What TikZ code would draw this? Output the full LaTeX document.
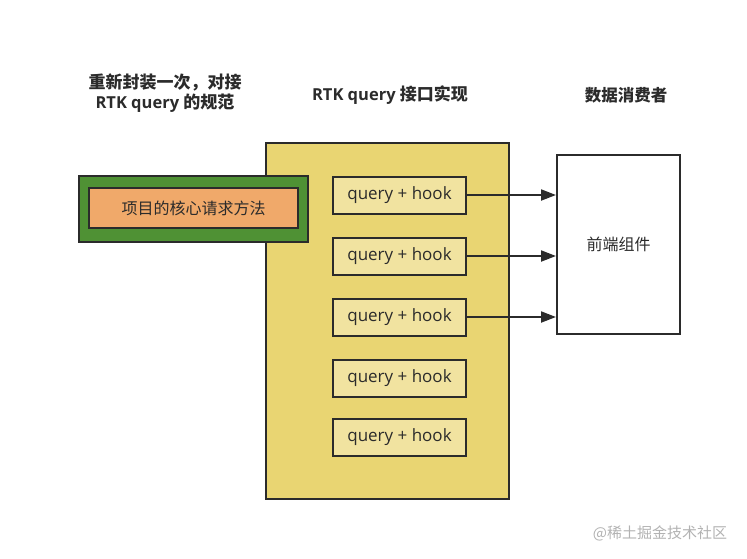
\documentclass[tikz,border=0pt]{standalone}
\usepackage{fontspec}
\setmainfont{Open Sans}
\newfontfamily\cjk{Noto Sans CJK SC}
\usetikzlibrary{arrows.meta,positioning}
\definecolor{edgegray}{HTML}{2B2B2B}
\definecolor{apiyellow}{HTML}{E9D572}
\definecolor{hookyellow}{HTML}{F1E3A0}
\definecolor{wrapgreen}{HTML}{4F9134}
\definecolor{coreorange}{HTML}{F0A96A}
\tikzset{every picture/.append style={line width=2pt}}

\begin{document}
\begin{tikzpicture}[x=1pt,y=-1pt]
      \tikzstyle{box}=[rectangle,draw=edgegray,inner sep=0pt,font=\fontsize{17}{20}\selectfont,text=edgegray]
      \tikzstyle{hook}=[box,fill=hookyellow,minimum width=133pt,minimum height=37pt]
      \tikzstyle{title}=[align=center,font=\bfseries\fontsize{16.5}{20}\selectfont,text=edgegray]
      \useasboundingbox (0,0) rectangle (747,558);
      % titles
      \node[title] at (165,93) (Twrap) {{\cjk\fontsize{17}{20}\selectfont 重新封装一次，对接}\\RTK query {\cjk\fontsize{17}{20}\selectfont 的规范}};
      \node[title] at (390,95) (Tapi) {RTK query {\cjk\fontsize{17}{20}\selectfont 接口实现}};
      \node[title,font=\cjk\bfseries\fontsize{16.5}{20}\selectfont] at (626,95) (Tuse) {数据消费者};
      % boxes
      \node[box,fill=apiyellow,minimum width=243pt,minimum height=356pt] at (387.5,321) (api) {};
      \node[box,fill=wrapgreen,minimum width=229pt,minimum height=66pt] at (193.5,209) (wrap) {};
      \node[box,fill=coreorange,minimum width=209pt,minimum height=40pt,font=\cjk\fontsize{16}{18}\selectfont] at (193.5,208) (core) {项目的核心请求方法};
      \node[hook] at (399.5,195) (q1) {query + hook};
      \node[hook] at (399.5,256) (q2) {query + hook};
      \node[hook] at (399.5,317) (q3) {query + hook};
      \node[hook] at (399.5,378) (q4) {query + hook};
      \node[hook] at (399.5,437) (q5) {query + hook};
      \node[box,fill=white,minimum width=123pt,minimum height=179pt,font=\cjk\fontsize{16}{18}\selectfont] at (618.5,244.5) (ui) {前端组件};
      % arrows
      \draw[edgegray,-{Triangle[length=15pt,width=11pt]}] (q1.east) -- (q1.east -| ui.west);
      \draw[edgegray,-{Triangle[length=15pt,width=11pt]}] (q2.east) -- (q2.east -| ui.west);
      \draw[edgegray,-{Triangle[length=15pt,width=11pt]}] (q3.east) -- (q3.east -| ui.west);
      \node[text=black!30,font=\cjk\fontsize{15}{16}\selectfont] at (660,533) (mark) {@稀土掘金技术社区};
\end{tikzpicture}
\end{document}
